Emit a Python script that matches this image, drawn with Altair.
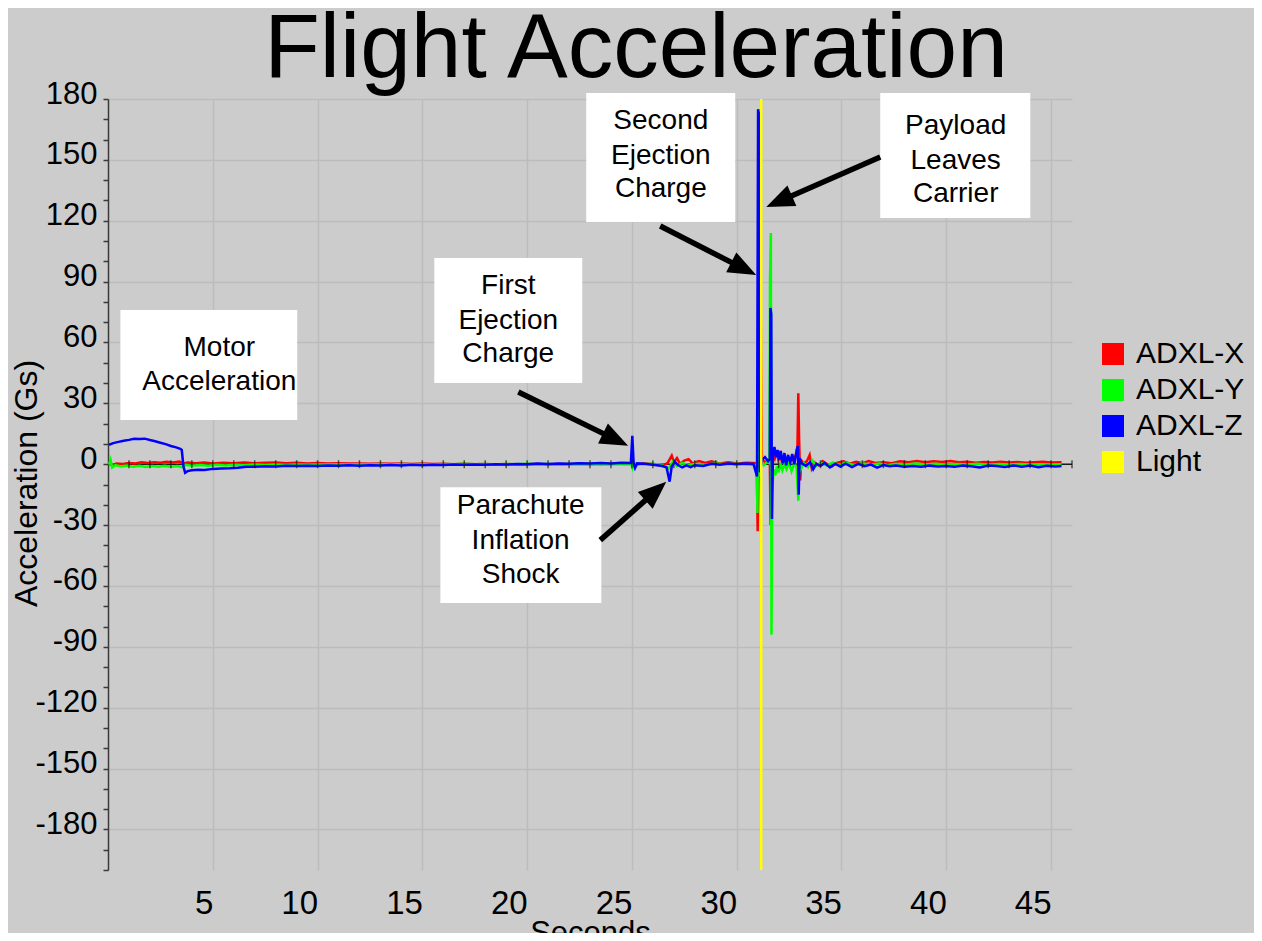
import math
import altair as alt
import pandas as pd

FONT = "Liberation Sans"
W, H = 964, 771
T_MAX = 46
V_MIN, V_MAX = -200, 180

title_text = "Flight Acceleration"
series_names = ["ADXL-X", "ADXL-Y", "ADXL-Z", "Light"]
series_colors = ["#ff0000", "#00ff00", "#0000ff", "#ffff00"]

# (seconds, Gs) samples
adxl_x = [(0.05, 0.4), (0.2, -0.6), (0.4, 0.3), (0.7, 0.1), (1.0, 0.6), (1.3, 0.4), (1.6, 0.9), (1.9, 0.6),
          (2.2, 1.0), (2.5, 0.7), (2.8, 1.2), (3.1, 0.9), (3.4, 1.3), (3.6, 0.4), (3.8, 0.8), (4.2, 0.5),
          (4.6, 0.8), (5.0, 0.4), (5.5, 0.7), (6.0, 0.5), (6.5, 0.8), (7.0, 0.5), (7.5, 0.7), (8.0, 0.9),
          (8.5, 0.5), (9.0, 0.7), (9.5, 0.4), (10.0, 0.6), (10.5, 0.3), (11.0, 0.5), (11.5, 0.3), (12.0, 0.4),
          (12.5, 0.2), (13.0, 0.4), (13.5, 0.2), (14.0, 0.3), (14.5, 0.1), (15.0, 0.3), (15.5, 0.1), (16.0, 0.2),
          (16.5, 0.0), (17.0, 0.2), (17.5, 0.0), (18.0, 0.1), (18.5, -0.1), (19.0, 0.1), (19.5, -0.1), (20.0, 0.0),
          (20.5, 0.1), (21.0, -0.1), (21.5, 0.1), (22.0, 0.0), (22.5, 0.2), (23.0, 0.0), (23.5, 0.2), (24.0, 0.1),
          (24.5, 0.3), (24.98, 0.2), (25.03, 2.0), (25.1, -0.3), (25.5, 0.3), (26.0, 0.1), (26.4, -0.8), (26.7, 0.5),
          (26.9, 4.2), (27.0, 1.0), (27.15, 3.0), (27.3, 0.2), (27.5, 1.8), (27.7, 2.5), (27.9, 0.4), (28.2, 1.6),
          (28.5, 0.6), (28.8, 1.4), (29.2, 0.3), (29.6, 0.9), (30.0, 0.3), (30.5, 0.7), (30.96, 0.5), (31.0, -33.0),
          (31.05, 1.5), (31.12, 120.0), (31.16, 55.0), (31.2, 2.5), (31.35, 1.0), (31.5, 2.0), (31.58, 1.0),
          (31.62, -30.0), (31.66, 3.0), (31.74, 5.5), (31.82, 3.0), (31.9, 6.5), (31.98, 2.5), (32.06, 5.0),
          (32.15, 1.5), (32.25, 4.0), (32.35, 0.5), (32.45, 3.5), (32.55, 1.0), (32.7, 2.5), (32.82, 4.5),
          (32.9, 9.0), (32.94, 35.0), (32.98, 12.0), (33.03, -8.0), (33.08, 2.0), (33.2, 0.5), (33.35, 1.5),
          (33.48, 4.5), (33.58, -2.0), (33.7, 1.0), (33.9, -0.5), (34.1, 1.5), (34.3, 0.2), (34.55, -1.0),
          (34.8, 0.8), (35.1, 1.4), (35.4, 0.3), (35.7, 1.2), (36.0, 0.5), (36.3, 1.5), (36.6, 0.6), (37.0, 1.0),
          (37.4, 0.5), (37.8, 1.4), (38.2, 1.0), (38.6, 1.6), (39.0, 1.0), (39.4, 1.5), (39.8, 1.1), (40.2, 1.6),
          (40.6, 1.0), (41.0, 1.2), (41.4, 0.7), (41.8, 1.1), (42.2, 0.8), (42.6, 1.2), (43.0, 0.9), (43.4, 1.1),
          (43.8, 0.7), (44.2, 1.0), (44.6, 1.2), (45.0, 0.8), (45.5, 1.0)]

adxl_y = [(0.05, -0.2), (0.12, 2.2), (0.2, -1.6), (0.35, -0.4), (0.6, -1.1), (0.9, -0.6), (1.2, -1.3), (1.5, -0.8),
          (1.8, -1.4), (2.1, -0.9), (2.4, -1.3), (2.7, -0.8), (3.0, -1.2), (3.3, -0.9), (3.55, -1.5), (3.7, -0.3),
          (4.0, -0.8), (4.4, -0.4), (4.8, -0.7), (5.2, -0.3), (5.6, -0.6), (6.0, -0.3), (6.5, -0.5), (7.0, -0.2),
          (7.5, -0.4), (8.0, -0.2), (8.5, -0.4), (9.0, -0.1), (9.5, -0.3), (10.0, -0.1), (10.5, -0.2), (11.0, 0.0),
          (11.5, -0.2), (12.0, 0.0), (12.5, -0.1), (13.0, 0.1), (13.5, -0.1), (14.0, 0.1), (14.5, 0.0), (15.0, 0.1),
          (15.5, -0.1), (16.0, 0.1), (16.5, 0.0), (17.0, 0.2), (17.5, 0.0), (18.0, 0.1), (18.5, -0.1), (19.0, 0.1),
          (19.5, 0.0), (20.0, 0.2), (20.5, 0.0), (21.0, 0.1), (21.5, -0.1), (22.0, 0.1), (22.5, 0.0), (23.0, 0.1),
          (23.5, -0.1), (24.0, 0.1), (24.5, 0.0), (24.98, -0.1), (25.03, -1.8), (25.1, 0.4), (25.5, 0.0), (26.0, 0.2),
          (26.4, -0.4), (26.75, -2.2), (26.95, 1.2), (27.15, -1.0), (27.4, 0.6), (27.7, -0.6), (28.0, 0.2),
          (28.5, -0.3), (29.0, 0.3), (29.5, 0.0), (30.0, 0.2), (30.5, -0.1), (30.95, -0.4), (30.99, -24.0),
          (31.03, 31.0), (31.07, -6.0), (31.13, 2.0), (31.3, -0.5), (31.45, 1.0), (31.56, 0.5), (31.59, 91.0),
          (31.63, 114.0), (31.66, -84.0), (31.7, -12.0), (31.76, -2.5), (31.84, -5.5), (31.92, -1.0), (32.0, -4.0),
          (32.08, 0.5), (32.18, -3.0), (32.28, 0.0), (32.38, -2.5), (32.5, 1.0), (32.62, -3.5), (32.75, 0.5),
          (32.86, -1.5), (32.94, -18.0), (32.98, 2.0), (33.06, -2.5), (33.2, 0.5), (33.4, -1.5), (33.6, 2.0),
          (33.8, -0.8), (34.0, 0.6), (34.3, -0.6), (34.6, 0.8), (34.9, -0.3), (35.2, 0.7), (35.6, -0.4), (36.0, 0.5),
          (36.4, -0.3), (36.8, 0.4), (37.2, -0.5), (37.6, 0.2), (38.0, -0.3), (38.5, 0.3), (39.0, -0.2), (39.5, 0.2),
          (40.0, -0.3), (40.5, 0.1), (41.0, -0.2), (41.5, 0.2), (42.0, -0.3), (42.5, 0.1), (43.0, -0.2), (43.5, 0.1),
          (44.0, -0.2), (44.5, 0.0), (45.0, -0.1), (45.5, 0.0)]

adxl_z = [(0.05, 9.6), (0.25, 10.4), (0.5, 11.0), (0.75, 11.6), (1.0, 12.0), (1.25, 12.5), (1.5, 12.4), (1.75, 12.6),
          (2.0, 11.9), (2.25, 11.3), (2.5, 10.6), (2.75, 9.9), (3.0, 9.0), (3.25, 8.3), (3.45, 7.6), (3.52, 7.0),
          (3.6, -1.0), (3.68, -4.2), (3.8, -3.4), (4.0, -3.0), (4.3, -2.7), (4.6, -2.9), (5.0, -2.3), (5.4, -2.1),
          (5.8, -2.0), (6.2, -1.8), (6.6, -1.3), (7.0, -1.2), (7.5, -1.0), (8.0, -1.1), (8.5, -0.8), (9.0, -0.9),
          (9.5, -0.7), (10.0, -0.9), (10.5, -0.6), (11.0, -0.8), (11.5, -0.5), (12.0, -0.7), (12.5, -0.5),
          (13.0, -0.6), (13.5, -0.4), (14.0, -0.6), (14.5, -0.3), (15.0, -0.5), (15.5, -0.3), (16.0, -0.4),
          (16.5, -0.2), (17.0, -0.3), (17.5, -0.1), (18.0, -0.3), (18.5, 0.0), (19.0, -0.2), (19.5, 0.1), (20.0, 0.0),
          (20.5, 0.3), (21.0, 0.1), (21.5, 0.4), (22.0, 0.2), (22.5, 0.5), (23.0, 0.3), (23.5, 0.6), (24.0, 0.4),
          (24.5, 0.7), (24.95, 0.6), (25.02, 14.0), (25.08, 0.8), (25.15, -1.8), (25.25, 0.4), (25.6, 0.2),
          (26.0, -0.3), (26.4, -0.8), (26.65, -1.5), (26.8, -8.6), (26.9, -1.0), (27.05, 1.2), (27.2, -0.4),
          (27.4, -1.6), (27.6, -0.6), (27.8, -1.4), (28.0, -0.5), (28.4, -0.9), (28.8, 0.2), (29.2, -0.3),
          (29.6, 0.3), (30.0, 0.0), (30.4, 0.4), (30.8, 0.1), (30.97, -6.0), (31.02, 175.0), (31.07, 172.0),
          (31.11, -4.0), (31.2, 2.0), (31.35, 3.5), (31.5, 1.5), (31.58, 2.5), (31.61, 77.0), (31.65, 74.0),
          (31.68, -27.0), (31.73, 4.0), (31.8, 8.5), (31.88, 3.5), (31.95, 7.0), (32.03, 2.0), (32.1, 6.5),
          (32.2, 0.5), (32.28, 5.5), (32.36, -0.5), (32.45, 4.5), (32.55, 1.0), (32.65, 5.0), (32.75, 0.0),
          (32.85, 6.0), (32.92, 9.0), (32.96, -15.0), (33.0, 3.0), (33.1, 0.5), (33.3, -0.8), (33.5, 1.0),
          (33.65, -2.5), (33.8, 0.2), (34.0, -0.8), (34.2, 0.6), (34.45, -1.6), (34.7, 0.2), (34.95, -1.2),
          (35.2, 0.3), (35.5, -1.4), (35.8, 0.2), (36.1, -1.0), (36.4, -0.2), (36.7, -1.7), (37.0, -0.4),
          (37.3, -1.0), (37.6, -0.6), (38.0, -1.3), (38.4, -0.9), (38.8, -1.2), (39.2, -0.7), (39.6, -1.1),
          (40.0, -0.9), (40.4, -1.3), (40.8, -0.7), (41.2, -1.0), (41.6, -1.6), (42.0, -0.6), (42.4, -0.9),
          (42.8, -1.4), (43.2, -0.6), (43.6, -1.2), (44.0, -0.7), (44.4, -1.5), (44.8, -0.8), (45.2, -1.1),
          (45.5, -0.9)]

# light sensor: off-scale low, then off-scale high when the payload leaves
light = [(0.0, -205.0), (31.17, -205.0), (31.17, 185.0), (45.5, 185.0)]

# annotation boxes (seconds / Gs)
box_t1 = [0.59, 15.57, 15.86, 22.82, 36.85]
box_t2 = [9.03, 22.63, 23.54, 29.93, 44.01]
box_v1 = [76.0, 101.6, -11.3, 183.0, 183.0]
box_v2 = [21.8, 40.0, -68.4, 119.4, 121.3]

note_text = ["Motor", "Acceleration", "First", "Ejection", "Charge", "Parachute", "Inflation", "Shock",
             "Second", "Ejection", "Charge", "Payload", "Leaves", "Carrier"]
note_t = [5.31, 5.31, 19.1, 19.1, 19.1, 19.69, 19.69, 19.69, 26.38, 26.38, 26.38, 40.45, 40.45, 40.45]
note_v = [57.3, 40.5, 87.8, 70.6, 54.3, -20.6, -37.9, -54.6, 169.2, 151.9, 135.6, 166.7, 149.4, 133.2]

arrow_tail_t = [19.58, 23.49, 26.35, 36.85]
arrow_tail_v = [35.6, -37.4, 117.4, 151.4]
arrow_tip_t = [24.82, 26.64, 30.93, 31.41]
arrow_tip_v = [9.1, -8.7, 93.2, 126.8]

# ---------------------------------------------------------------------------
rows = []
for name, pts in zip(series_names, [adxl_x, adxl_y, adxl_z, light]):
    for i, (t, v) in enumerate(pts):
        rows.append({"series": name, "t": t, "v": v, "idx": i})
lines_df = pd.DataFrame(rows)

sx = W / T_MAX
sy = H / (V_MAX - V_MIN)
HEAD = 28.0
arrows = []
for t0, v0, t1, v1 in zip(arrow_tail_t, arrow_tail_v, arrow_tip_t, arrow_tip_v):
    dx = (t1 - t0) * sx
    dy = -(v1 - v0) * sy
    L = math.hypot(dx, dy)
    ux, uy = dx / L, dy / L
    back = HEAD * 0.8
    arrows.append({
        "t0": t0, "v0": v0, "t1": t1, "v1": v1,
        "tb": t1 - back * ux / sx, "vb": v1 + back * uy / sy,
        "angle": math.degrees(math.atan2(dy, dx)) % 360,
    })
arrows_df = pd.DataFrame(arrows)

boxes_df = pd.DataFrame({"t1": box_t1, "t2": box_t2, "v1": box_v1, "v2": box_v2})
notes_df = pd.DataFrame({"text": note_text, "t": note_t, "v": note_v})
ticks_df = pd.DataFrame({"t": list(range(1, T_MAX + 1)), "v": [0] * T_MAX})
zero_df = pd.DataFrame({"t0": [0], "t1": [T_MAX], "v": [0]})
# chart title: centred 46 px right of the plot centre, baseline 22 px above the plot
title_df = pd.DataFrame({"text": [title_text], "t": [T_MAX / 2 + 46 / sx], "v": [V_MAX + 22 / sy]})

x_scale = alt.Scale(domain=[0, T_MAX], nice=False, zero=False)
y_scale = alt.Scale(domain=[V_MIN, V_MAX], nice=False, zero=False)

x_axis = alt.Axis(
    values=list(range(5, 46, 5)), title="Seconds", grid=True, gridColor="#bcbcbc", gridWidth=1.5,
    ticks=False, tickSize=0, domain=False, labelAlign="right", labelBaseline="alphabetic",
    labelPadding=43, labelFontSize=33, labelFont=FONT, labelColor="#000000", labelFlush=False,
    labelOverlap=False, titleFont=FONT, titleFontSize=31, titleFontWeight="normal", titleColor="#000000",
    titleX=W / 2, titleY=72, titleAlign="center", titleBaseline="alphabetic",
)
y_axis = alt.Axis(
    values=list(range(V_MIN, V_MAX + 1, 10)), title="Acceleration (Gs)", grid=True, gridColor="#bcbcbc",
    gridWidth=1.5,
    gridOpacity={"condition": {"test": "datum.value % 30 === 0", "value": 1}, "value": 0},
    labelExpr="datum.value % 30 === 0 ? '' + datum.value : ''",
    domainColor="#3a3a3a", domainWidth=1.5, tickColor="#3a3a3a", tickWidth=1.5, tickSize=5,
    labelPadding=6, labelFontSize=31, labelFont=FONT, labelColor="#000000", labelBaseline="alphabetic",
    labelOffset=4, labelOverlap=False, labelFlush=False,
    titleFont=FONT, titleFontSize=32, titleFontWeight="normal", titleColor="#000000",
    titleX=-72, titleY=384, titleAngle=270, titleAlign="center", titleBaseline="alphabetic",
)


def X(field):
    return alt.X(field, scale=x_scale, axis=x_axis)


def Y(field):
    return alt.Y(field, scale=y_scale, axis=y_axis)


zero_rule = alt.Chart(zero_df).mark_rule(color="#1a1a1a", strokeWidth=1.5).encode(
    x=X("t0:Q"), x2="t1:Q", y=Y("v:Q"),
)

lines = alt.Chart(lines_df).mark_line(clip=True, strokeWidth=2.5).encode(
    x=X("t:Q"), y=Y("v:Q"),
    color=alt.Color("series:N", scale=alt.Scale(domain=series_names, range=series_colors), legend=None),
    order=alt.Order("idx:Q"),
)

legend_layer = alt.Chart(lines_df).transform_filter("false").mark_point(shape="square", filled=True).encode(
    x=X("t:Q"), y=Y("v:Q"),
    fill=alt.Fill(
        "series:N",
        scale=alt.Scale(domain=series_names, range=series_colors),
        legend=alt.Legend(
            title=None, orient="none", legendX=990, legendY=240, symbolType="square", symbolSize=484,
            symbolStrokeWidth=0, symbolOpacity=1, labelFontSize=30, labelFont=FONT, labelColor="#000000",
            labelOffset=8, rowPadding=6, padding=0,
        ),
    ),
)

zero_ticks = alt.Chart(ticks_df).mark_tick(orient="vertical", size=8, thickness=1.5, color="#1a1a1a").encode(
    x=X("t:Q"), y=Y("v:Q"),
)

boxes = alt.Chart(boxes_df).mark_rect(color="#ffffff").encode(
    x=X("t1:Q"), x2="t2:Q", y=Y("v1:Q"), y2="v2:Q",
)

notes = alt.Chart(notes_df).mark_text(font=FONT, fontSize=28, color="#000000", align="center",
                                      baseline="middle").encode(
    x=X("t:Q"), y=Y("v:Q"), text="text:N",
)

title_mark = alt.Chart(title_df).mark_text(font=FONT, fontSize=91, color="#000000", align="center",
                                           baseline="alphabetic").encode(
    x=X("t:Q"), y=Y("v:Q"), text="text:N",
)

shafts = alt.Chart(arrows_df).mark_rule(color="#000000", strokeWidth=5.5).encode(
    x=X("t0:Q"), x2="tb:Q", y=Y("v0:Q"), y2="vb:Q",
)

heads = alt.Chart(arrows_df).mark_point(
    shape="M0,0 L-2,-0.8 L-2,0.8 Z", filled=True, color="#000000", opacity=1, strokeWidth=0,
    size=HEAD * HEAD,
).encode(
    x=X("t1:Q"), y=Y("v1:Q"),
    angle=alt.Angle("angle:Q", scale=None),
)

chart = alt.layer(
    zero_rule, lines, zero_ticks, legend_layer, boxes, notes, shafts, heads, title_mark
).resolve_scale(color="independent", fill="independent").properties(
    width=W,
    height=H,
    padding={"left": 100, "top": 91, "right": 182, "bottom": 63},
    autosize=alt.AutoSizeParams(type="none"),
).configure(background="#cccccc").configure_view(strokeWidth=0)

chart.save("out.html", embed_options={"renderer": "svg", "actions": False})
